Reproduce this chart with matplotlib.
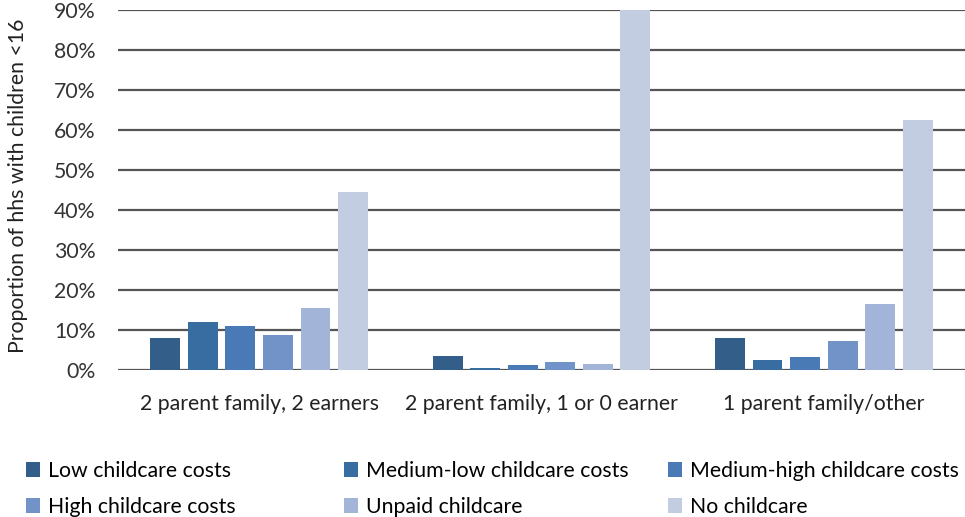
import matplotlib
matplotlib.use("Agg")
import matplotlib.pyplot as plt
import numpy as np
from matplotlib.patches import Patch

plt.rcParams['font.family'] = ['Lato', 'DejaVu Sans']

categories = ["2 parent family, 2 earners", "2 parent family, 1 or 0 earner", "1 parent family/other"]
series_names = ["Low childcare costs", "Medium-low childcare costs", "Medium-high childcare costs",
                "High childcare costs", "Unpaid childcare", "No childcare"]
low_costs = [8.0, 3.5, 8.0]
medium_low_costs = [12.0, 0.4, 2.5]
medium_high_costs = [11.0, 1.2, 3.3]
high_costs = [8.8, 2.0, 7.3]
unpaid = [15.5, 1.5, 16.5]
no_childcare = [44.5, 90.0, 62.5]
y_ticks = [0, 10, 20, 30, 40, 50, 60, 70, 80, 90]

series = [low_costs, medium_low_costs, medium_high_costs, high_costs, unpaid, no_childcare]
colors = ["#335E8A", "#376DA1", "#4A7AB5", "#7293C7", "#A2B4D7", "#C2CDE2"]

FS = 15.3
fig = plt.figure(figsize=(9.65, 5.17), dpi=100)
ax = fig.add_axes([118 / 965, 1 - 370 / 517, 1 - 118 / 965, 360 / 517])

x = np.arange(len(categories))
width = 0.106
step = 0.133
for i, (vals, col) in enumerate(zip(series, colors)):
    offs = (i - 2.5) * step
    ax.bar(x + offs, vals, width, color=col, zorder=3, label=series_names[i])

ax.set_xlim(-0.5, 2.5)
ax.set_ylim(0, 90)
ax.set_yticks(y_ticks)
ax.set_yticklabels([f"{t}%" for t in y_ticks], fontsize=FS, color="#333333")
ax.set_xticks(x)
ax.set_xticklabels(categories, fontsize=FS, color="#222222")
ax.tick_params(axis='both', length=0)
ax.tick_params(axis='y', pad=16)
ax.tick_params(axis='x', pad=17)
ax.grid(axis='y', color="#555555", linewidth=1.6, zorder=1)
for s in ax.spines.values():
    s.set_visible(False)
ax.set_ylabel("Proportion of hhs with children <16", fontsize=FS, color="#222222")
ax.yaxis.set_label_coords(-0.106, 0.511)

# legend laid out in three columns of two rows each
col_x = [26 / 965, 344 / 965, 668 / 965]
for c in range(3):
    handles = [Patch(facecolor=colors[c], edgecolor='none'),
               Patch(facecolor=colors[c + 3], edgecolor='none')]
    labels = [series_names[c], series_names[c + 3]]
    fig.legend(handles, labels, loc='upper left', bbox_to_anchor=(col_x[c], 56 / 517),
               frameon=False, fontsize=FS, handlelength=0.68, handleheight=0.68,
               handletextpad=0.35, labelspacing=0.75, borderaxespad=0, borderpad=0)

fig.savefig("out.png", dpi=100)
